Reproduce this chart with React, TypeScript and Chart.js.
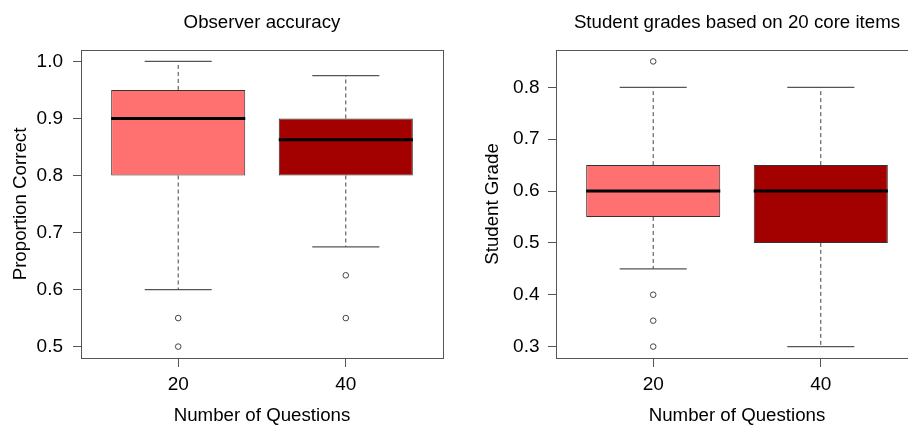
import React, { useEffect, useRef } from "react";
import { Chart, registerables } from "chart.js";

Chart.register(...registerables);

// ---- data ----
const categories = ["20", "40"];

// Observer accuracy
const accTitle = "Observer accuracy";
const accYLabel = "Proportion Correct";
const accLowWhisker = [0.6, 0.675];
const accQ1 = [0.8, 0.8];
const accMedian = [0.9, 0.8625];
const accQ3 = [0.95, 0.9];
const accHighWhisker = [1.0, 0.975];
const accOutliers = [[0.55, 0.5], [0.625, 0.55]];
const accYTicks = [0.5, 0.6, 0.7, 0.8, 0.9, 1.0];

// Student grades
const gradeTitle = "Student grades based on 20 core items";
const gradeYLabel = "Student Grade";
const gradeLowWhisker = [0.45, 0.3];
const gradeQ1 = [0.55, 0.5];
const gradeMedian = [0.6, 0.6];
const gradeQ3 = [0.65, 0.65];
const gradeHighWhisker = [0.8, 0.8];
const gradeOutliers = [[0.85, 0.4, 0.35, 0.3], []];
const gradeYTicks = [0.3, 0.4, 0.5, 0.6, 0.7, 0.8];

const xLabel = "Number of Questions";
const boxColors = ["#FF7171", "#A30000"];

const FONT = "'Liberation Sans', Arial, Helvetica, sans-serif";
const LINE = "#555555";
const TICK_SIZE = 19;
const TITLE_SIZE = 18.7;

const framePlugin = {
  id: "frame",
  afterDraw(chart: any) {
    const { ctx, chartArea } = chart;
    ctx.save();
    ctx.strokeStyle = LINE;
    ctx.lineWidth = 1;
    ctx.strokeRect(
      Math.round(chartArea.left) + 0.5,
      Math.round(chartArea.top) + 0.5,
      Math.round(chartArea.right - chartArea.left),
      Math.round(chartArea.bottom - chartArea.top)
    );
    ctx.restore();
  },
};

type BoxSpec = {
  title: string;
  yLabel: string;
  low: number[];
  q1: number[];
  med: number[];
  q3: number[];
  high: number[];
  outliers: number[][];
  yTicks: number[];
  yAxisWidth: number;
  yTickPad: number;
  yTitlePad: number;
  rightPad: number;
};

function buildConfig(s: BoxSpec): any {
  const all: number[] = [...s.low, ...s.high, ...s.outliers.flat()];
  const lo = Math.min(...all);
  const hi = Math.max(...all);
  const pad = (hi - lo) * 0.04;
  const n = categories.length;
  const xPad = n * 0.04;
  const boxwex = 0.8;
  const datasets: any[] = [];

  datasets.push({
    type: "bar",
    data: categories.map((_, i) => ({ x: i + 1, y: [s.q1[i], s.q3[i]] })),
    backgroundColor: boxColors,
    borderColor: "#333333",
    borderWidth: 1,
    borderSkipped: false,
    barPercentage: boxwex,
    categoryPercentage: 1,
    order: 10,
  });

  categories.forEach((_, i) => {
    const x = i + 1;
    // dashed whiskers
    datasets.push({
      type: "line",
      data: [{ x, y: s.q3[i] }, { x, y: s.high[i] }],
      borderColor: "#444444",
      borderWidth: 1,
      borderDash: [4, 3],
      pointRadius: 0,
      order: 5,
    });
    datasets.push({
      type: "line",
      data: [{ x, y: s.q1[i] }, { x, y: s.low[i] }],
      borderColor: "#444444",
      borderWidth: 1,
      borderDash: [4, 3],
      pointRadius: 0,
      order: 5,
    });
    // caps
    [s.high[i], s.low[i]].forEach((v) => {
      datasets.push({
        type: "line",
        data: [{ x: x - boxwex / 4, y: v }, { x: x + boxwex / 4, y: v }],
        borderColor: LINE,
        borderWidth: 1.2,
        pointRadius: 0,
        order: 5,
      });
    });
    // median
    datasets.push({
      type: "line",
      data: [{ x: x - boxwex / 2, y: s.med[i] }, { x: x + boxwex / 2, y: s.med[i] }],
      borderColor: "#000000",
      borderWidth: 3,
      pointRadius: 0,
      order: 1,
    });
    // outliers
    if (s.outliers[i].length) {
      datasets.push({
        type: "scatter",
        data: s.outliers[i].map((v) => ({ x, y: v })),
        pointRadius: 2.8,
        pointBackgroundColor: "#ffffff",
        pointBorderColor: "#444444",
        pointBorderWidth: 1,
        order: 1,
      });
    }
  });

  return {
    type: "bar",
    data: { datasets },
    plugins: [framePlugin],
    options: {
      animation: false,
      responsive: false,
      events: [],
      layout: { padding: { left: 0, right: s.rightPad, top: 0, bottom: 0 } },
      plugins: {
        legend: { display: false },
        tooltip: { enabled: false },
        title: {
          display: true,
          text: s.title,
          fullSize: false,
          color: "#000",
          font: { family: FONT, size: TITLE_SIZE, weight: "normal", lineHeight: 1.2 },
          padding: { top: 11.8, bottom: 15.76 },
        },
      },
      scales: {
        x: {
          type: "linear",
          offset: false,
          min: 0.5 - xPad,
          max: n + 0.5 + xPad,
          afterBuildTicks: (sc: any) => {
            sc.ticks = categories.map((_, i) => ({ value: i + 1 }));
          },
          afterFit: (sc: any) => {
            sc.height = 67;
          },
          grid: {
            offset: false,
            drawOnChartArea: false,
            drawTicks: true,
            tickLength: 9,
            color: LINE,
          },
          border: { display: false },
          ticks: {
            padding: 6.6,
            color: "#000",
            font: { family: FONT, size: TICK_SIZE, lineHeight: 1.2 },
            maxRotation: 0,
            autoSkip: false,
            callback: (v: any) => categories[Math.round(v) - 1] ?? "",
          },
          title: {
            display: true,
            text: xLabel,
            color: "#000",
            font: { family: FONT, size: TITLE_SIZE, lineHeight: 1 },
            padding: { top: 0, bottom: 0 },
          },
        },
        y: {
          type: "linear",
          min: lo - pad,
          max: hi + pad,
          afterBuildTicks: (sc: any) => {
            sc.ticks = s.yTicks.map((v) => ({ value: v }));
          },
          afterFit: (sc: any) => {
            sc.width = s.yAxisWidth;
          },
          grid: {
            drawOnChartArea: false,
            drawTicks: true,
            tickLength: 8,
            color: LINE,
          },
          border: { display: false },
          ticks: {
            padding: s.yTickPad,
            color: "#000",
            font: { family: FONT, size: TICK_SIZE, lineHeight: 1.2 },
            autoSkip: false,
            callback: (v: any) => Number(v).toFixed(1),
          },
          title: {
            display: true,
            text: s.yLabel,
            color: "#000",
            font: { family: FONT, size: TITLE_SIZE, lineHeight: 1 },
            padding: { top: s.yTitlePad, bottom: 0 },
          },
        },
      },
    },
  };
}

function BoxChart({ spec, width, height }: { spec: BoxSpec; width: number; height: number }) {
  const ref = useRef<HTMLCanvasElement>(null);
  useEffect(() => {
    if (!ref.current) return;
    const chart = new Chart(ref.current, buildConfig(spec));
    return () => chart.destroy();
  }, [spec]);
  return (
    <canvas
      ref={ref}
      width={width}
      height={height}
      style={{ display: "block", width, height }}
    />
  );
}

const leftSpec: BoxSpec = {
  title: accTitle,
  yLabel: accYLabel,
  low: accLowWhisker,
  q1: accQ1,
  med: accMedian,
  q3: accQ3,
  high: accHighWhisker,
  outliers: accOutliers,
  yTicks: accYTicks,
  yAxisWidth: 81,
  yTickPad: 10,
  yTitlePad: 11.3,
  rightPad: 11,
};

const rightSpec: BoxSpec = {
  title: gradeTitle,
  yLabel: gradeYLabel,
  low: gradeLowWhisker,
  q1: gradeQ1,
  med: gradeMedian,
  q3: gradeQ3,
  high: gradeHighWhisker,
  outliers: gradeOutliers,
  yTicks: gradeYTicks,
  yAxisWidth: 102,
  yTickPad: 8.5,
  yTitlePad: 29.2,
  rightPad: 12,
};

export default function App() {
  return (
    <div
      style={{
        position: "absolute",
        left: 0,
        top: 0,
        width: 908,
        height: 425,
        overflow: "hidden",
        background: "#fff",
      }}
    >
      <div style={{ position: "absolute", left: 0, top: 0 }}>
        <BoxChart spec={leftSpec} width={454} height={425} />
      </div>
      <div style={{ position: "absolute", left: 454, top: 0 }}>
        <BoxChart spec={rightSpec} width={476} height={425} />
      </div>
    </div>
  );
}
